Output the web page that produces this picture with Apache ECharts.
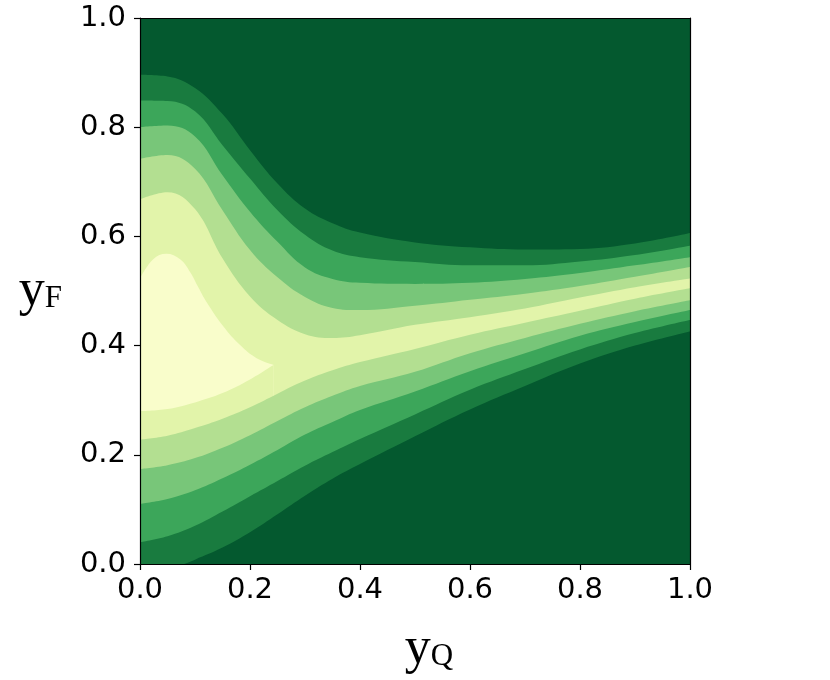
<!DOCTYPE html>
<html>
<head>
<meta charset="utf-8">
<script src="https://cdn.jsdelivr.net/npm/echarts@6/dist/echarts.min.js"></script>
<style>html,body{margin:0;padding:0;background:#fff}#chart{width:830px;height:680px}</style>
</head>
<body>
<div id="chart"></div>
<script>
// Tick values
const xTicks = [0, 0.2, 0.4, 0.6, 0.8, 1.0];
const yTicks = [0, 0.2, 0.4, 0.6, 0.8, 1.0];

// Band colours, darkest (lowest level) to lightest (highest level)
const bandColors = ['#04592f', '#197b3f', '#3ca65a', '#78c679', '#b3df91', '#e2f4aa', '#f9fdcb'];

// Contour boundaries: [yQ, yF]
// upperK / lowerK: upper and lower edge of the region whose level is >= K
const upper1 = [[0,0.896],[0.05,0.893],[0.1,0.872],[0.15,0.824],[0.2,0.758],[0.25,0.697],[0.3,0.651],[0.35,0.624],[0.4,0.607],[0.5,0.589],[0.6,0.580],[0.7,0.576],[0.8,0.577],[0.9,0.587],[1.0,0.606]];
const upper2 = [[0,0.849],[0.05,0.848],[0.1,0.829],[0.15,0.767],[0.2,0.706],[0.25,0.648],[0.3,0.603],[0.35,0.574],[0.4,0.562],[0.5,0.553],[0.6,0.547],[0.7,0.547],[0.8,0.554],[0.9,0.566],[1.0,0.583]];
const upper3 = [[0,0.800],[0.05,0.803],[0.1,0.783],[0.15,0.712],[0.2,0.645],[0.25,0.590],[0.3,0.543],[0.35,0.522],[0.4,0.515],[0.5,0.513],[0.6,0.515],[0.7,0.522],[0.8,0.533],[0.9,0.547],[1.0,0.562]];
const upper4 = [[0,0.742],[0.05,0.749],[0.1,0.724],[0.15,0.648],[0.2,0.575],[0.25,0.525],[0.3,0.489],[0.35,0.469],[0.4,0.465],[0.5,0.473],[0.6,0.484],[0.7,0.495],[0.8,0.509],[0.9,0.526],[1.0,0.544]];
const upper5 = [[0,0.668],[0.05,0.681],[0.1,0.650],[0.15,0.560],[0.2,0.490],[0.25,0.447],[0.3,0.421],[0.35,0.414],[0.4,0.419],[0.5,0.438],[0.6,0.452],[0.7,0.468],[0.8,0.488],[0.9,0.507],[1.0,0.523]];
const upper6 = [[0,0.523],[0.024,0.558],[0.048,0.568],[0.073,0.558],[0.091,0.535],[0.106,0.507],[0.121,0.480],[0.151,0.436],[0.182,0.401],[0.212,0.377],[0.243,0.365]];
const lower6 = [[0,0.280],[0.05,0.284],[0.1,0.296],[0.15,0.313],[0.2,0.338],[0.243,0.365]];
const lower5 = [[0,0.228],[0.05,0.235],[0.1,0.249],[0.15,0.266],[0.2,0.287],[0.25,0.312],[0.3,0.336],[0.35,0.355],[0.4,0.370],[0.5,0.394],[0.6,0.420],[0.7,0.442],[0.8,0.464],[0.9,0.486],[1.0,0.505]];
const lower4 = [[0,0.174],[0.05,0.181],[0.1,0.194],[0.15,0.213],[0.2,0.236],[0.25,0.262],[0.3,0.287],[0.35,0.308],[0.4,0.326],[0.5,0.352],[0.6,0.386],[0.7,0.414],[0.8,0.440],[0.9,0.463],[1.0,0.483]];
const lower3 = [[0,0.110],[0.05,0.119],[0.1,0.135],[0.15,0.157],[0.2,0.182],[0.25,0.209],[0.3,0.237],[0.35,0.260],[0.4,0.282],[0.5,0.316],[0.6,0.353],[0.7,0.386],[0.8,0.418],[0.9,0.443],[1.0,0.465]];
const lower2 = [[0,0.040],[0.05,0.051],[0.1,0.070],[0.15,0.096],[0.2,0.124],[0.25,0.152],[0.3,0.180],[0.35,0.205],[0.4,0.229],[0.5,0.274],[0.6,0.319],[0.7,0.357],[0.8,0.393],[0.9,0.423],[1.0,0.447]];
const lower1 = [[0.08,0],[0.1,0.008],[0.15,0.030],[0.2,0.058],[0.25,0.091],[0.3,0.125],[0.35,0.156],[0.4,0.183],[0.5,0.234],[0.6,0.283],[0.7,0.326],[0.8,0.367],[0.9,0.400],[1.0,0.426]];

const uppers = [upper1, upper2, upper3, upper4, upper5, upper6];
const lowers = [lower1, lower2, lower3, lower4, lower5, lower6];

// Painting: area under upperK with colour K+1 (K=1..6), then area under lowerK
// with colour K (K=6..1) — the nested bands come out right.
const series = [];
uppers.forEach((d, i) => series.push(areaSeries(d, bandColors[i + 1])));
for (let i = lowers.length - 1; i >= 0; i--) series.push(areaSeries(lowers[i], bandColors[i]));

function areaSeries(data, color) {
  return {
    type: 'line', data: data, xAxisIndex: 0, yAxisIndex: 0,
    smooth: 0.4, showSymbol: false, symbol: 'none',
    lineStyle: { width: 0 }, areaStyle: { color: color, opacity: 1 },
    silent: true, z: 2, clip: true, animation: false,
    emphasis: { disabled: true }
  };
}

const labelFont = { fontFamily: 'DejaVu Sans', fontSize: 29, color: '#000' };
const fmt = v => Number(v).toFixed(1);
const nameRich = {
  v: { fontFamily: 'Liberation Serif', fontSize: 52, color: '#000', lineHeight: 56 },
  s: { fontFamily: 'Liberation Serif', fontSize: 31, color: '#000', lineHeight: 56, padding: [15, 0, 0, 0] }
};
const nameRichX = {
  v: Object.assign({}, nameRich.v, { padding: [0, 0, 0, 28] }),
  s: nameRich.s
};

const chart = echarts.init(document.getElementById('chart'), null, { renderer: 'canvas' });
chart.setOption({
  animation: false,
  backgroundColor: '#fff',
  grid: { left: 140, top: 18, width: 550, height: 549, show: true, backgroundColor: bandColors[0], borderWidth: 0 },
  xAxis: [
    { type: 'value', min: xTicks[0], max: xTicks[xTicks.length - 1], interval: 0.2, position: 'bottom', z: 10,
      axisLine: { show: true, onZero: false, lineStyle: { color: '#000', width: 1.2 } },
      axisTick: { show: true, length: 6, lineStyle: { color: '#000', width: 1.2 } },
      axisLabel: Object.assign({ formatter: fmt, margin: 12 }, labelFont),
      splitLine: { show: false },
      name: '{v|y}{s|Q}', nameLocation: 'middle', nameGap: 57,
      nameTextStyle: { rich: nameRichX } },
    { type: 'value', min: 0, max: 1, position: 'top', z: 10,
      axisLine: { show: true, onZero: false, lineStyle: { color: '#000', width: 1.2 } },
      axisTick: { show: false }, axisLabel: { show: false }, splitLine: { show: false } }
  ],
  yAxis: [
    { type: 'value', min: yTicks[0], max: yTicks[yTicks.length - 1], interval: 0.2, position: 'left', z: 10,
      axisLine: { show: true, onZero: false, lineStyle: { color: '#000', width: 1.2 } },
      axisTick: { show: true, length: 6, lineStyle: { color: '#000', width: 1.2 } },
      axisLabel: Object.assign({ formatter: fmt, margin: 14 }, labelFont),
      splitLine: { show: false },
      name: '{v|y}{s|F}', nameLocation: 'middle', nameRotate: 0, nameGap: 78,
      nameTextStyle: { rich: nameRich } },
    { type: 'value', min: 0, max: 1, position: 'right', z: 10,
      axisLine: { show: true, onZero: false, lineStyle: { color: '#000', width: 1.2 } },
      axisTick: { show: false }, axisLabel: { show: false }, splitLine: { show: false } }
  ],
  series: series
});
</script>
</body>
</html>
